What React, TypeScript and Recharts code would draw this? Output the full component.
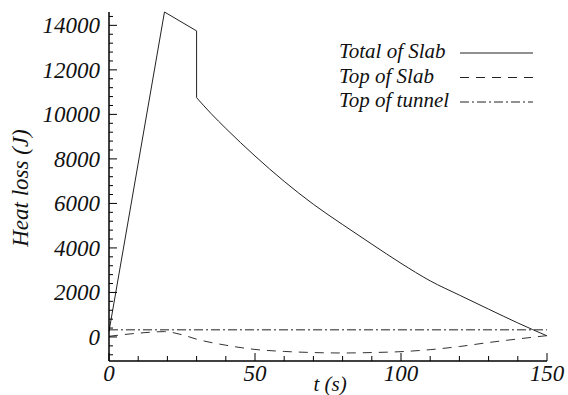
import React from 'react'
import { LineChart, Line, XAxis, YAxis, Legend } from 'recharts'

// Total of Slab: rise + sudden drop, then the smooth decay
const riseT = [0, 19, 30, 30]
const riseQ = [250, 14600, 13750, 10750]
const decayT = [30, 35, 40, 50, 60, 70, 80, 90, 100, 110, 120, 130, 140, 150]
const decayQ = [10750, 10030, 9370, 8130, 6990, 5960, 5050, 4170, 3310, 2520, 1880, 1250, 630, 50]

// Top of Slab
const topSlabT = [0, 10, 19, 25, 30, 40, 50, 60, 70, 80, 90, 100, 110, 120, 130, 140, 150]
const topSlabQ = [30, 170, 240, 100, -100, -370, -560, -650, -700, -720, -700, -660, -570, -430, -250, -90, 60]

// Top of tunnel
const tunnelT = [0, 150]
const tunnelQ = [320, 320]

const legendOrder = ['Total of Slab', 'Top of Slab', 'Top of tunnel']

const xTicks = [0, 10, 20, 30, 40, 50, 60, 70, 80, 90, 100, 110, 120, 130, 140, 150]
const xLabels = [0, 50, 100, 150]
const yTicks = [
  -800, -400, 0, 400, 800, 1200, 1600, 2000, 2400, 2800, 3200, 3600, 4000, 4400, 4800, 5200, 5600, 6000,
  6400, 6800, 7200, 7600, 8000, 8400, 8800, 9200, 9600, 10000, 10400, 10800, 11200, 11600, 12000, 12400,
  12800, 13200, 13600, 14000, 14400,
]
const yLabels = [0, 2000, 4000, 6000, 8000, 10000, 12000, 14000]

const zip = (t: number[], q: number[]) => t.map((v, i) => ({ t: v, q: q[i] }))

const txt: React.CSSProperties = {
  fontFamily: 'Liberation Serif',
  fontStyle: 'italic',
  fill: '#111',
}

const YTick = (props: any) => {
  const { x, y, payload } = props
  const major = yLabels.includes(payload.value)
  return (
    <g>
      <line x1={x} x2={x + (major ? 8 : 4)} y1={y} y2={y} stroke="#000" strokeWidth={1} />
      {major && (
        <text x={x - 9} y={y} dy="0.35em" textAnchor="end" style={{ ...txt, fontSize: 23 }}>
          {payload.value}
        </text>
      )}
    </g>
  )
}

const XTick = (props: any) => {
  const { x, y, payload } = props
  const major = xLabels.includes(payload.value)
  return (
    <g>
      <line x1={x} x2={x} y1={y} y2={y - (major ? 8 : 5)} stroke="#000" strokeWidth={1} />
      {major && (
        <text x={x} y={y + 20} textAnchor="middle" style={{ ...txt, fontSize: 23 }}>
          {payload.value}
        </text>
      )}
    </g>
  )
}

const LegendBox = (props: any) => {
  const items = (props.payload || [])
    .filter((it: any) => legendOrder.includes(it.value))
    .sort((a: any, b: any) => legendOrder.indexOf(a.value) - legendOrder.indexOf(b.value))
  return (
    <svg width={210} height={80}>
      {items.map((it: any, i: number) => (
        <g key={it.value}>
          <text x={4} y={20 + i * 24.5} style={{ ...txt, fontSize: 21 }}>
            {it.value}
          </text>
          <line
            x1={125}
            x2={198}
            y1={15 + i * 24.5}
            y2={15 + i * 24.5}
            stroke="#222"
            strokeWidth={1}
            strokeDasharray={it.payload?.strokeDasharray}
          />
        </g>
      ))}
    </svg>
  )
}

export default function App() {
  return (
    <div style={{ width: 568, height: 395, background: '#fff' }}>
      <style>{`body{margin:0}`}</style>
      <LineChart width={568} height={395} margin={{ top: 12, right: 21, bottom: 0, left: 0 }}>
        <XAxis
          type="number"
          dataKey="t"
          domain={[0, 150]}
          ticks={xTicks}
          interval={0}
          tick={<XTick />}
          tickSize={0}
          tickMargin={0}
          tickLine={false}
          height={34}
          allowDuplicatedCategory={false}
          axisLine={{ stroke: '#000', strokeWidth: 1.5 }}
          label={{
            content: () => (
              <text x={330} y={391} textAnchor="middle" style={{ ...txt, fontSize: 21 }}>
                t (s)
              </text>
            ),
          }}
        />
        <YAxis
          type="number"
          dataKey="q"
          domain={[-1080, 14580]}
          ticks={yTicks}
          interval={0}
          tick={<YTick />}
          tickSize={0}
          tickMargin={0}
          tickLine={false}
          width={109}
          axisLine={{ stroke: '#000', strokeWidth: 1.5 }}
          label={{
            content: () => (
              <text transform="translate(28,188) rotate(-90)" textAnchor="middle" style={{ ...txt, fontSize: 23 }}>
                Heat loss (J)
              </text>
            ),
          }}
        />
        <Legend
          layout="horizontal"
          verticalAlign="middle"
          align="center"
          content={<LegendBox />}
          wrapperStyle={{ position: 'absolute', top: 38, left: 335, width: 210, height: 80 }}
        />
        <Line
          data={zip(riseT, riseQ)}
          dataKey="q"
          name="Total of Slab"
          type="linear"
          stroke="#222"
          strokeWidth={1}
          dot={false}
          isAnimationActive={false}
        />
        <Line
          data={zip(decayT, decayQ)}
          dataKey="q"
          name="Total of Slab (decay)"
          legendType="none"
          type="monotone"
          stroke="#222"
          strokeWidth={1}
          dot={false}
          isAnimationActive={false}
        />
        <Line
          data={zip(topSlabT, topSlabQ)}
          dataKey="q"
          name="Top of Slab"
          type="monotone"
          stroke="#333"
          strokeWidth={1}
          strokeDasharray="9 7"
          dot={false}
          isAnimationActive={false}
        />
        <Line
          data={zip(tunnelT, tunnelQ)}
          dataKey="q"
          name="Top of tunnel"
          type="linear"
          stroke="#222"
          strokeWidth={1}
          strokeDasharray="9 3 2 3"
          dot={false}
          isAnimationActive={false}
        />
      </LineChart>
    </div>
  )
}
